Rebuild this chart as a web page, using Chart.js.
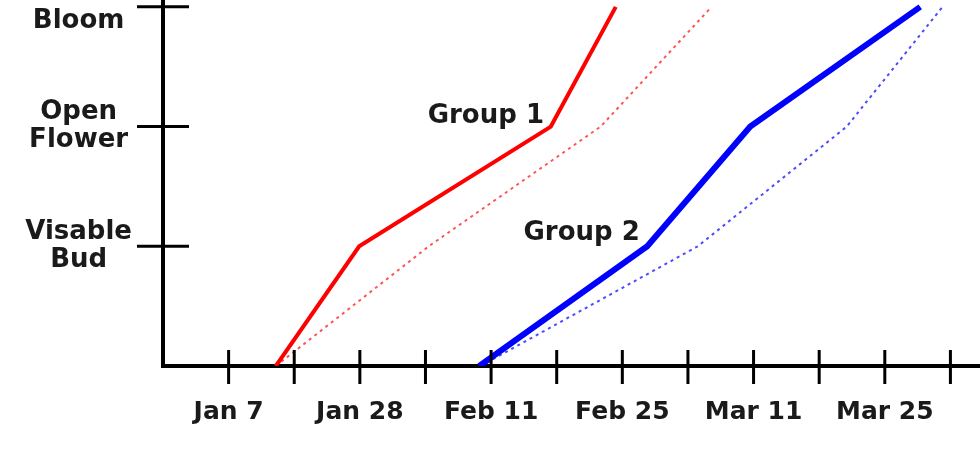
<!DOCTYPE html>
<html>
<head>
<meta charset="utf-8">
<script src="https://cdn.jsdelivr.net/npm/chart.js@4"></script>
<style>
  html, body { margin: 0; padding: 0; background: #fff; overflow: hidden; }
  #wrap { position: absolute; left: 0; top: -60px; width: 1060px; height: 510px; }
</style>
</head>
<body>
<div id="wrap"><canvas id="bloomChart" width="1060" height="510"></canvas></div>
<script>
// Bloom stages (y) and week ticks (x)
const stageValues = [0, 1, 2, 3];
const stageLabels = ['', ['Visable', 'Bud'], ['Open', 'Flower'], ['Full', 'Bloom']];
const weekTicks = [0, 1, 2, 3, 4, 5, 6, 7, 8, 9, 10, 11];
const tickLabels = ['Jan 7', '', 'Jan 28', '', 'Feb 11', '', 'Feb 25', '', 'Mar 11', '', 'Mar 25', ''];

// week at which each stage was reached
const group1Weeks = [0.72, 1.99, 4.91, 5.90];
const group1DotWeeks = [0.72, 3.05, 5.67, 7.36];
const group2Weeks = [3.82, 6.38, 7.95, 10.54];
const group2DotWeeks = [3.84, 7.15, 9.42, 10.88];

const groupNames = ['Group 1', 'Group 2'];
const groupLabelAt = [[3.92, 2.03], [5.38, 1.05]];

const FONT = '"DejaVu Sans", "Liberation Sans", Arial, sans-serif';

function toPoints(weeks) {
    return weeks.map((w, i) => ({ x: w, y: stageValues[i] }));
}

function noPadding(s) {
    s.paddingTop = 0;
    s.paddingBottom = 0;
    s.paddingLeft = 0;
    s.paddingRight = 0;
}

// tick crosses through both axes and the group names
const crossTicks = {
    id: 'crossTicks',
    afterDraw(chart) {
        const ctx = chart.ctx;
        const xs = chart.scales.x, ys = chart.scales.y;
        const x0 = xs.getPixelForValue(-1), y0 = ys.getPixelForValue(0);
        ctx.save();
        ctx.strokeStyle = '#000';
        ctx.lineWidth = 3;
        ctx.beginPath();
        weekTicks.forEach(w => {
            const px = xs.getPixelForValue(w);
            ctx.moveTo(px, y0 - 16);
            ctx.lineTo(px, y0 + 18);
        });
        stageValues.slice(1).forEach(v => {
            const py = ys.getPixelForValue(v);
            ctx.moveTo(x0 - 26, py);
            ctx.lineTo(x0 + 26, py);
        });
        ctx.stroke();

        ctx.fillStyle = '#1a1a1a';
        ctx.font = 'bold 26px ' + FONT;
        ctx.textAlign = 'center';
        ctx.textBaseline = 'alphabetic';
        groupNames.forEach((name, i) => {
            ctx.fillText(name, xs.getPixelForValue(groupLabelAt[i][0]), ys.getPixelForValue(groupLabelAt[i][1]));
        });
        ctx.restore();
    }
};

new Chart('bloomChart', {
    type: 'line',
    data: {
        datasets: [
            {
                label: 'Group 1',
                data: toPoints(group1Weeks),
                borderColor: '#ff0000',
                borderWidth: 4,
                pointRadius: 0
            },
            {
                label: 'Group 1 (dotted)',
                data: toPoints(group1DotWeeks),
                borderColor: 'rgba(255, 40, 40, 0.8)',
                borderWidth: 2,
                borderDash: [3, 4],
                pointRadius: 0
            },
            {
                label: 'Group 2',
                data: toPoints(group2Weeks),
                borderColor: '#0000ff',
                borderWidth: 6,
                pointRadius: 0
            },
            {
                label: 'Group 2 (dotted)',
                data: toPoints(group2DotWeeks),
                borderColor: 'rgba(30, 30, 255, 0.8)',
                borderWidth: 2,
                borderDash: [3, 4],
                pointRadius: 0
            }
        ]
    },
    options: {
        responsive: false,
        animation: false,
        devicePixelRatio: 1,
        layout: { padding: { top: 7, left: 0, right: 0, bottom: 0 } },
        plugins: {
            legend: { display: false },
            tooltip: { enabled: false }
        },
        scales: {
            x: {
                type: 'linear',
                min: -1,
                max: 12.67,
                afterFit: s => { noPadding(s); s.height = 84; },
                afterBuildTicks: s => { s.ticks = weekTicks.map(v => ({ value: v })); },
                grid: { drawOnChartArea: false, drawTicks: false },
                border: { display: true, color: '#000', width: 4 },
                ticks: {
                    autoSkip: false,
                    maxRotation: 0,
                    padding: 31,
                    color: '#1a1a1a',
                    font: { family: FONT, size: 25, weight: 'bold' },
                    callback: (v) => tickLabels[weekTicks.indexOf(v)] ?? ''
                }
            },
            y: {
                type: 'linear',
                min: 0,
                max: 3.5,
                afterFit: s => { noPadding(s); s.width = 163; },
                afterBuildTicks: s => { s.ticks = stageValues.map(v => ({ value: v })); },
                grid: { drawOnChartArea: false, drawTicks: false },
                border: { display: true, color: '#000', width: 4 },
                ticks: {
                    crossAlign: 'center',
                    padding: 31,
                    color: '#1a1a1a',
                    font: { family: FONT, size: 26, weight: 'bold', lineHeight: 1.07 },
                    callback: (v) => stageLabels[stageValues.indexOf(v)] ?? ''
                }
            }
        }
    },
    plugins: [crossTicks]
});
</script>
</body>
</html>
